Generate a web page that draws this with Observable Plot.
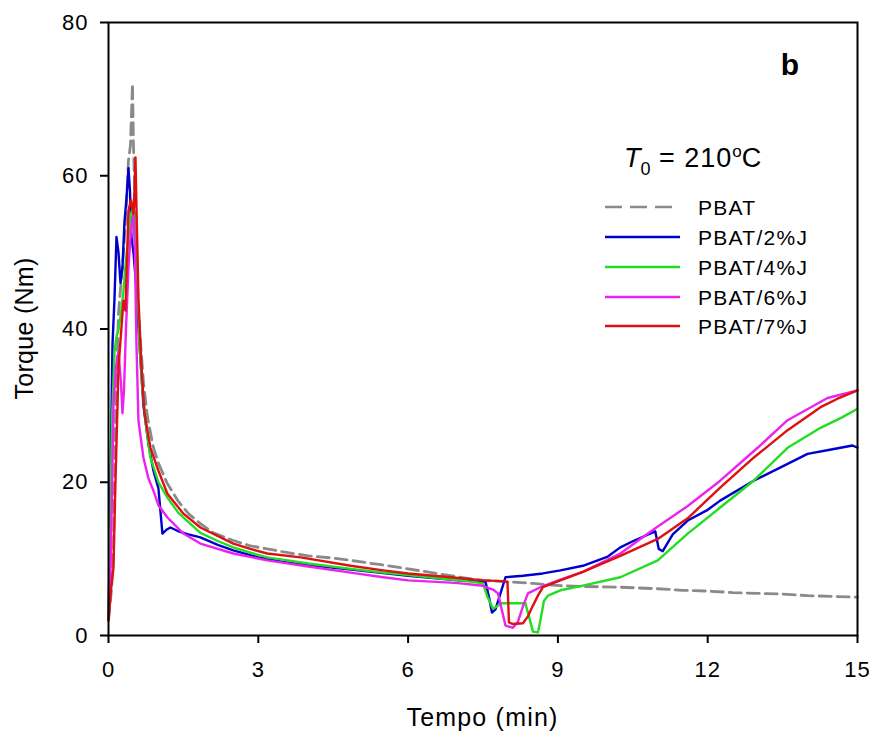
<!DOCTYPE html>
<html>
<head>
<meta charset="utf-8">
<script src="https://cdn.jsdelivr.net/npm/d3@7"></script>
<script src="https://cdn.jsdelivr.net/npm/@observablehq/plot@0.6"></script>
<style>
  html, body { margin: 0; padding: 0; background: #ffffff; }
  svg { display: block; }
</style>
</head>
<body>
<div id="chart"></div>
<script>
// ---- data ----
const seriesNames = ["PBAT", "PBAT/2%J", "PBAT/4%J", "PBAT/6%J", "PBAT/7%J"];
const seriesColors = ["#8a8a8a", "#0000cc", "#22dd22", "#ee22ee", "#dd1111"];
const seriesDashed = [true, false, false, false, false];

const xTicks = [0, 3, 6, 9, 12, 15];
const yTicks = [0, 20, 40, 60, 80];

const pbatX = [0, 0.06, 0.1, 0.14, 0.2, 0.3, 0.35, 0.4, 0.44, 0.48, 0.5, 0.55, 0.6, 0.7, 0.78, 0.9, 1.0, 1.18, 1.4, 1.6, 1.84, 2.1, 2.5, 2.84, 3.18, 3.6, 4.0, 4.5, 4.85, 5.5, 6.0, 6.85, 7.05, 7.5, 8.0, 8.5, 9.05, 9.5, 10.25, 11.0, 11.5, 12.0, 12.5, 13.0, 13.5, 14.0, 14.5, 15.0];
const pbatY = [2, 6, 11, 28, 42, 50, 55, 62, 64, 72, 64, 52, 42, 33, 28.5, 24.5, 22.5, 19.8, 17.5, 15.9, 14.6, 13.4, 12.4, 11.7, 11.3, 10.8, 10.4, 10.1, 9.8, 9.2, 8.7, 7.8, 7.6, 7.2, 7.0, 6.8, 6.5, 6.4, 6.3, 6.1, 5.9, 5.8, 5.6, 5.5, 5.4, 5.2, 5.1, 5.0];

const j2X = [0, 0.02, 0.05, 0.08, 0.12, 0.16, 0.2, 0.24, 0.28, 0.32, 0.36, 0.4, 0.43, 0.46, 0.5, 0.55, 0.6, 0.65, 0.7, 0.8, 0.9, 1.0, 1.08, 1.16, 1.24, 1.4, 1.6, 1.84, 2.2, 2.5, 3.0, 3.5, 4.0, 5.0, 6.0, 7.0, 7.55, 7.62, 7.68, 7.75, 7.85, 7.95, 8.3, 8.7, 9.05, 9.5, 10.0, 10.25, 10.5, 10.95, 11.02, 11.1, 11.3, 11.6, 12.0, 12.25, 12.92, 13.45, 14.0, 14.5, 14.9, 15.0];
const j2Y = [2, 10, 25, 38, 44, 52, 50, 46, 48, 54, 57, 61, 58, 52, 50, 46, 40, 35, 30, 25, 21.5, 19.2, 13.3, 13.8, 14.1, 13.6, 13.2, 12.8, 11.8, 11.1, 10.2, 9.6, 9.2, 8.5, 7.8, 7.2, 7.0, 5.0, 3.0, 3.4, 5.5, 7.6, 7.8, 8.1, 8.5, 9.1, 10.3, 11.5, 12.3, 13.6, 11.3, 11.0, 13.2, 15.0, 16.4, 17.6, 20.2, 21.9, 23.7, 24.3, 24.8, 24.5];

const j4X = [0, 0.03, 0.07, 0.12, 0.16, 0.2, 0.25, 0.3, 0.35, 0.4, 0.45, 0.5, 0.54, 0.58, 0.62, 0.68, 0.75, 0.84, 1.0, 1.18, 1.4, 1.84, 2.2, 2.5, 2.84, 3.18, 4.0, 4.85, 5.5, 6.0, 6.85, 7.3, 7.5, 7.58, 7.7, 7.78, 7.85, 8.1, 8.35, 8.42, 8.5, 8.6, 8.65, 8.72, 8.8, 9.05, 9.5, 10.25, 11.0, 11.6, 12.25, 12.92, 13.6, 14.26, 14.7, 15.0];
const j4Y = [2, 12, 28, 37, 39, 40, 42, 45, 49, 52, 55, 56, 54, 46, 38, 32, 27.5, 23.2, 20, 18, 16, 13.4, 12.3, 11.5, 10.8, 10.2, 9.4, 8.7, 8.2, 7.9, 7.3, 7.0, 6.8, 5.2, 3.5, 3.8, 4.2, 4.2, 4.2, 2.5, 0.5, 0.4, 2, 4.5, 5.2, 5.9, 6.5, 7.6, 9.8, 13.3, 16.7, 20.2, 24.5, 27.1, 28.5, 29.6];

const j6X = [0, 0.03, 0.06, 0.1, 0.15, 0.2, 0.25, 0.28, 0.31, 0.35, 0.4, 0.45, 0.5, 0.53, 0.56, 0.6, 0.7, 0.8, 0.9, 1.0, 1.18, 1.5, 1.84, 2.5, 3.18, 4.0, 4.85, 5.5, 6.0, 6.85, 7.05, 7.5, 7.6, 7.7, 7.8, 7.95, 8.1, 8.2, 8.3, 8.4, 8.65, 9.05, 9.5, 10.25, 10.95, 11.6, 12.25, 13.0, 13.6, 14.4, 15.0];
const j6Y = [2, 5, 15, 30, 35, 37, 33, 29, 32, 40, 48, 53, 55, 50, 38, 28, 23.2, 20.5, 18.9, 17, 15.4, 13.3, 12, 10.7, 9.8, 9.0, 8.2, 7.6, 7.2, 6.9, 6.8, 6.5, 6.2, 6.0, 5.5, 1.3, 1.0, 1.8, 3.8, 5.5, 6.3, 7.3, 8.3, 10.7, 14, 16.9, 20.2, 24.5, 28.1, 31, 32];

const j7X = [0, 0.05, 0.1, 0.13, 0.2, 0.3, 0.34, 0.4, 0.45, 0.5, 0.52, 0.54, 0.56, 0.6, 0.66, 0.72, 0.84, 1.0, 1.18, 1.5, 1.84, 2.5, 2.84, 3.18, 3.85, 4.85, 5.5, 6.0, 6.85, 7.5, 7.9, 7.99, 8.02, 8.1, 8.3, 8.4, 8.5, 8.6, 8.7, 9.05, 9.5, 10.25, 11.0, 11.6, 12.25, 12.92, 13.6, 14.26, 14.6, 15.0];
const j7Y = [2, 6, 8.9, 17.6, 35, 43.7, 42.4, 55.5, 56.8, 55, 58, 62.4, 56, 44, 35, 29, 24.5, 21.5, 18.5, 15.9, 14.1, 12, 11.3, 10.7, 10.2, 9.1, 8.5, 8.1, 7.6, 7.2, 7.1, 7.0, 1.7, 1.5, 1.6, 2.5, 3.9, 5.2, 6.3, 7.2, 8.3, 10.4, 12.6, 15.3, 19.3, 23.2, 26.8, 29.8, 30.9, 32];

const seriesX = [pbatX, j2X, j4X, j6X, j7X];
const seriesY = [pbatY, j2Y, j4Y, j6Y, j7Y];

const xLabel = "Tempo (min)";
const yLabel = "Torque (Nm)";
const panelLabel = "b";

// ---- build rows ----
const lineMarks = seriesNames.map((name, i) => {
  const rows = seriesX[i].map((x, k) => ({series: name, x, y: seriesY[i][k]}));
  return Plot.line(rows, {
    x: "x", y: "y",
    stroke: seriesColors[i],
    strokeWidth: seriesDashed[i] ? 2.8 : 2.4,
    strokeDasharray: seriesDashed[i] ? "12,6" : null,
    strokeLinejoin: "round"
  });
});

const W = 875, H = 738, mL = 108, mR = 18, mT = 22, mB = 103;

const chart = Plot.plot({
  width: W, height: H,
  marginLeft: mL, marginRight: mR, marginTop: mT, marginBottom: mB,
  style: {fontFamily: "'Liberation Sans', Arial, sans-serif", background: "#ffffff", color: "#000"},
  x: {domain: [0, 15]},
  y: {domain: [0, 80]},
  marks: [
    ...lineMarks,
    Plot.frame({stroke: "#000", strokeWidth: 2}),
    Plot.axisX({ticks: xTicks, tickSize: 8, tickPadding: 18, label: null, strokeWidth: 2}),
    Plot.axisY({ticks: yTicks, tickSize: 8, tickPadding: 12, label: null, strokeWidth: 2})
  ]
});
document.getElementById("chart").appendChild(chart);

// ---- annotations: axis titles, panel label, legend ----
const svg = d3.select(chart);
const font = "'Liberation Sans', Arial, sans-serif";
svg.selectAll("g[aria-label='x-axis tick label'], g[aria-label='y-axis tick label']")
  .attr("font-size", 22).style("font-size", "22px");
svg.selectAll("g[aria-label='x-axis tick label'] text, g[aria-label='y-axis tick label'] text")
  .attr("letter-spacing", "1px").style("font-size", "22px");

svg.append("text")
  .attr("x", mL + (W - mL - mR) / 2).attr("y", 726)
  .attr("text-anchor", "middle")
  .attr("font-family", font).attr("font-size", 25).attr("letter-spacing", "1.2px")
  .attr("fill", "#000")
  .text(xLabel);

svg.append("text")
  .attr("transform", `translate(33,${mT + (H - mT - mB) / 2}) rotate(-90)`)
  .attr("text-anchor", "middle")
  .attr("font-family", font).attr("font-size", 25).attr("letter-spacing", "0.3px")
  .attr("fill", "#000")
  .text(yLabel);

svg.append("text")
  .attr("x", 799).attr("y", 75)
  .attr("text-anchor", "end")
  .attr("font-family", font).attr("font-size", 30).attr("font-weight", "bold")
  .attr("fill", "#000")
  .text(panelLabel);

// T0 = 210 °C
const t0 = svg.append("text")
  .attr("x", 624).attr("y", 167)
  .attr("text-anchor", "start")
  .attr("font-family", font).attr("font-size", 27).attr("fill", "#000");
t0.append("tspan").attr("font-style", "italic").text("T");
t0.append("tspan").attr("font-size", 18).attr("dy", 8).text("0");
t0.append("tspan").attr("dy", -8).attr("letter-spacing", "1px").text(" = 210");
t0.append("tspan").attr("font-size", 17).attr("dy", -10).text("o");
t0.append("tspan").attr("dy", 10).text("C");

// legend
const legendRows = [207, 237, 267, 297, 326];
seriesNames.forEach((name, i) => {
  const y = legendRows[i];
  svg.append("line")
    .attr("x1", 605).attr("x2", 680).attr("y1", y).attr("y2", y)
    .attr("stroke", seriesColors[i]).attr("stroke-width", 2.6)
    .attr("stroke-dasharray", seriesDashed[i] ? "17,8" : null);
  svg.append("text")
    .attr("x", 698).attr("y", y + 8)
    .attr("text-anchor", "start")
    .attr("font-family", font).attr("font-size", 21).attr("letter-spacing", "1.3px")
    .attr("fill", "#000")
    .text(name);
});
</script>
</body>
</html>
